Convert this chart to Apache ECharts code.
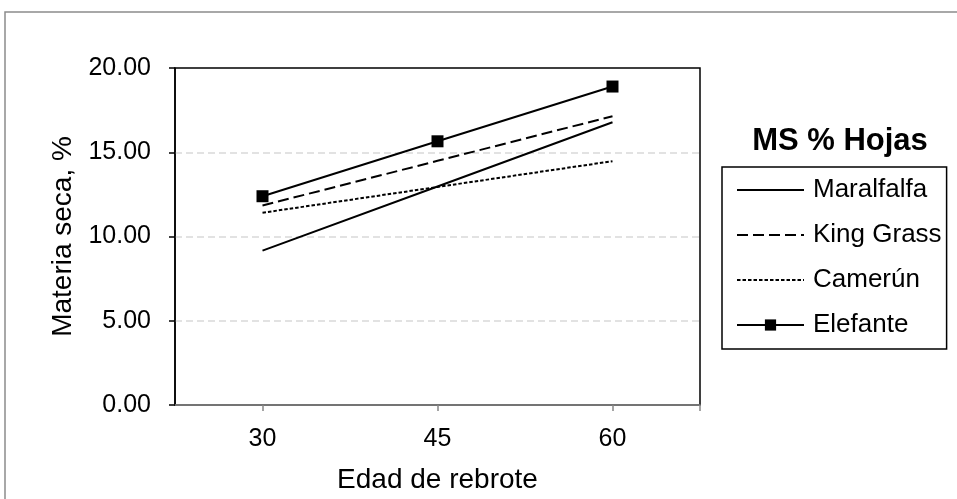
<!DOCTYPE html>
<html lang="es">
<head>
    <meta charset="utf-8" />
    <title>MS % Hojas</title>
    <script src="https://cdn.jsdelivr.net/npm/echarts@6/dist/echarts.min.js"></script>
    <style>
        html, body { margin: 0; background: #FFFFFF; }
        #chart { width: 957px; height: 499px; }
    </style>
</head>
<body>
<div id="chart"></div>
<script>
// edades de rebrote (dias)
var edades = [30, 45, 60];
var yTicks = [0, 5, 10, 15, 20];

// materia seca, % (hojas)
var maralfalfa = [9.16, 12.97, 16.78];
var kingGrass = [11.84, 14.49, 17.14];
var camerun = [11.41, 12.94, 14.47];
var elefante = [12.39, 15.65, 18.90];

var FONT = '"Liberation Sans", Arial, sans-serif';

function pares(vals) {
    return edades.map(function (e, i) { return [e, vals[i]]; });
}

var chart = echarts.init(document.getElementById('chart'), null, { renderer: 'canvas' });

chart.setOption({
    animation: false,
    backgroundColor: '#fff',
    textStyle: { fontFamily: FONT },
    graphic: [
        {
            // marco exterior del grafico
            type: 'rect',
            z: -10,
            shape: { x: 5, y: 12, width: 1000, height: 600 },
            style: { fill: 'none', stroke: '#8c8c8c', lineWidth: 1.5 }
        },
        {
            type: 'text',
            x: 840,
            y: 141,
            style: {
                text: 'MS % Hojas',
                align: 'center',
                verticalAlign: 'middle',
                font: 'bold 31px ' + FONT,
                fill: '#000'
            }
        }
    ],
    grid: {
        left: 175, right: 257, top: 68, bottom: 91,
        show: true,
        borderColor: '#000',
        borderWidth: 1.5
    },
    xAxis: {
        type: 'value',
        min: 22.5,
        max: 67.5,
        name: 'Edad de rebrote',
        nameLocation: 'middle',
        nameGap: 61,
        nameTextStyle: { fontSize: 28, color: '#000', fontFamily: FONT },
        axisLine: { show: true, lineStyle: { color: '#868686', width: 1.5 } },
        axisTick: { show: true, length: 6, customValues: [30, 45, 60, 67.5], lineStyle: { color: '#868686', width: 1.5 } },
        axisLabel: { customValues: edades, margin: 22, fontSize: 25, color: '#000', fontFamily: FONT },
        splitLine: { show: false }
    },
    yAxis: {
        type: 'value',
        min: 0,
        max: 20,
        interval: 5,
        name: 'Materia seca, %',
        nameLocation: 'middle',
        nameGap: 98,
        nameTextStyle: { fontSize: 28, color: '#000', fontFamily: FONT },
        axisLine: { show: true, lineStyle: { color: '#000', width: 1.5 } },
        axisTick: { show: true, length: 6, lineStyle: { color: '#000', width: 1.5 } },
        axisLabel: {
            margin: 24, fontSize: 25, color: '#000', fontFamily: FONT,
            formatter: function (v) { return v.toFixed(2); }
        },
        splitLine: {
            show: true, showMinLine: false, showMaxLine: false,
            lineStyle: { color: '#d9d9d9', width: 1.5, type: [7, 4] }
        }
    },
    legend: {
        orient: 'vertical',
        left: 722,
        top: 167,
        padding: [8, 5, 9, 14],
        itemGap: 15,
        itemWidth: 67,
        itemHeight: 14,
        borderColor: '#000',
        borderWidth: 1.5,
        selectedMode: false,
        textStyle: { fontSize: 26, lineHeight: 30, color: '#000', fontFamily: FONT, padding: [0, 0, 0, 4] },
        data: [
            { name: 'Maralfalfa', itemStyle: { opacity: 0 }, lineStyle: { type: 'solid', width: 2, color: '#000' } },
            { name: 'King Grass', itemStyle: { opacity: 0 }, lineStyle: { type: [11, 5], width: 2, color: '#000' } },
            { name: 'Camerún', itemStyle: { opacity: 0 }, lineStyle: { type: [3.5, 2], width: 2, color: '#000' } },
            { name: 'Elefante', itemStyle: { color: '#000' }, lineStyle: { type: 'solid', width: 2, color: '#000' } }
        ]
    },
    series: [
        {
            name: 'Maralfalfa', type: 'line', data: pares(maralfalfa),
            symbol: 'none', color: '#000',
            lineStyle: { color: '#000', width: 2, type: 'solid' }
        },
        {
            name: 'King Grass', type: 'line', data: pares(kingGrass),
            symbol: 'none', color: '#000',
            lineStyle: { color: '#000', width: 2, type: [11, 5] }
        },
        {
            name: 'Camerún', type: 'line', data: pares(camerun),
            symbol: 'none', color: '#000',
            lineStyle: { color: '#000', width: 2, type: [3.5, 2] }
        },
        {
            name: 'Elefante', type: 'line', data: pares(elefante),
            symbol: 'rect', symbolSize: 12, showAllSymbol: true, color: '#000',
            itemStyle: { color: '#000' },
            lineStyle: { color: '#000', width: 2, type: 'solid' }
        }
    ]
});
</script>
</body>
</html>
